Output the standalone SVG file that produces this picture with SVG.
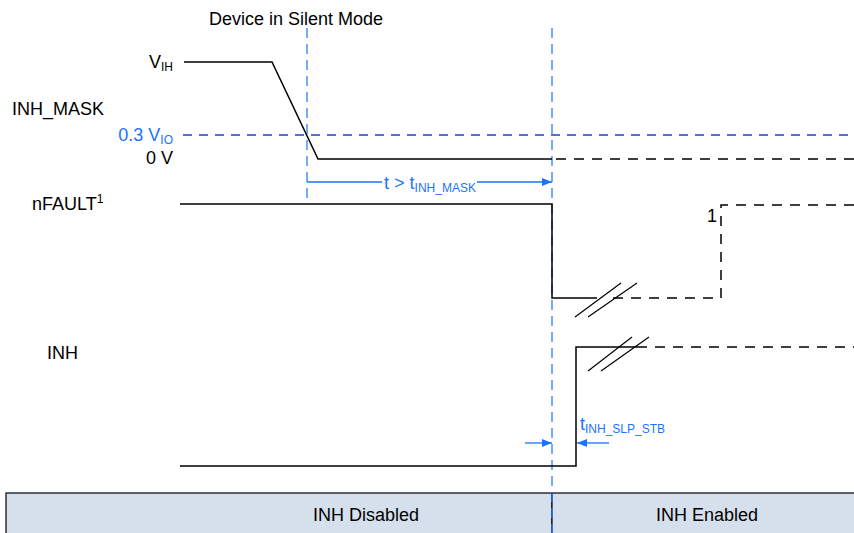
<svg xmlns="http://www.w3.org/2000/svg" width="854" height="533" viewBox="0 0 854 533">
<style>
text{font-family:"Liberation Sans",Arial,sans-serif;font-size:18px;fill:#000}
.blue{fill:#1a73ff}
.sub{font-size:12px}
.sig{fill:none;stroke:#000;stroke-width:1.5}
.dsig{fill:none;stroke:#000;stroke-width:1.5;stroke-dasharray:10 8}
.vdash{fill:none;stroke:#2a7fff;stroke-width:1.3;stroke-dasharray:10 6}
.hdash{fill:none;stroke:#1f3fd0;stroke-width:1.3;stroke-dasharray:9 7}
.brk{fill:none;stroke:#000;stroke-width:1.2}
.dim{fill:none;stroke:#1a73ff;stroke-width:1.3}
.cell{fill:#d6e0ec;stroke:#000;stroke-width:1.2}
</style>
<defs>
<marker id="ah" markerWidth="10" markerHeight="8" refX="10" refY="4" orient="auto" markerUnits="userSpaceOnUse">
<path d="M0,0 L10,4 L0,8 Z" fill="#1a73ff"/>
</marker>
</defs>

<g id="timing-table">
<rect class="cell" x="6" y="493" width="546" height="42"/>
<rect class="cell" x="552" y="493" width="304" height="42"/>
<text x="366" y="521" text-anchor="middle">INH Disabled</text>
<text x="707" y="521" text-anchor="middle">INH Enabled</text>
</g>

<g id="labels">
<text x="209" y="25">Device in Silent Mode</text>
<text x="173" y="68" text-anchor="end">V<tspan class="sub" dy="3">IH</tspan></text>
<text x="12" y="115">INH_MASK</text>
<text x="173" y="141" text-anchor="end" class="blue">0.3 V<tspan class="sub" dy="3">IO</tspan></text>
<text x="173" y="164" text-anchor="end">0 V</text>
<text x="32" y="210">nFAULT<tspan class="sub" dy="-7">1</tspan></text>
<text x="47" y="359">INH</text>
<text x="707" y="222">1</text>
</g>

<g id="reference-lines">
<line class="hdash" x1="183" y1="135" x2="854" y2="135"/>
<line class="vdash" x1="307" y1="28" x2="307" y2="200"/>
<line class="vdash" x1="552" y1="28" x2="552" y2="533"/>
</g>

<g id="inh-mask-signal">
<polyline class="sig" points="184,62 272,62 318,159 552,159"/>
<line class="dsig" x1="556" y1="159" x2="854" y2="159"/>
</g>

<g id="nfault-signal">
<polyline class="sig" points="180,204 552,204 552,298 597,298"/>
<polyline class="dsig" points="613,298 721,298 721,205 854,205"/>
<line class="brk" x1="575" y1="317" x2="621" y2="283"/>
<line class="brk" x1="588" y1="317" x2="637" y2="283"/>
</g>

<g id="inh-signal">
<polyline class="sig" points="180,466 576,466 576,347 647,347"/>
<line class="dsig" x1="655" y1="347" x2="854" y2="347"/>
<line class="brk" x1="588" y1="371" x2="632" y2="337"/>
<line class="brk" x1="601" y1="371" x2="649" y2="337"/>
</g>

<g id="connectors">
<line class="dim" x1="307" y1="182" x2="382" y2="182"/>
<line class="dim" x1="477" y1="182" x2="552" y2="182" marker-end="url(#ah)"/>
<text x="430" y="189" text-anchor="middle" class="blue">t &gt; t<tspan class="sub" dy="3">INH_MASK</tspan></text>
<line class="dim" x1="525" y1="443" x2="552" y2="443" marker-end="url(#ah)"/>
<line class="dim" x1="609" y1="443" x2="577" y2="443" marker-end="url(#ah)"/>
<text x="580" y="430" class="blue">t<tspan class="sub" dy="3">INH_SLP_STB</tspan></text>
</g>
</svg>
